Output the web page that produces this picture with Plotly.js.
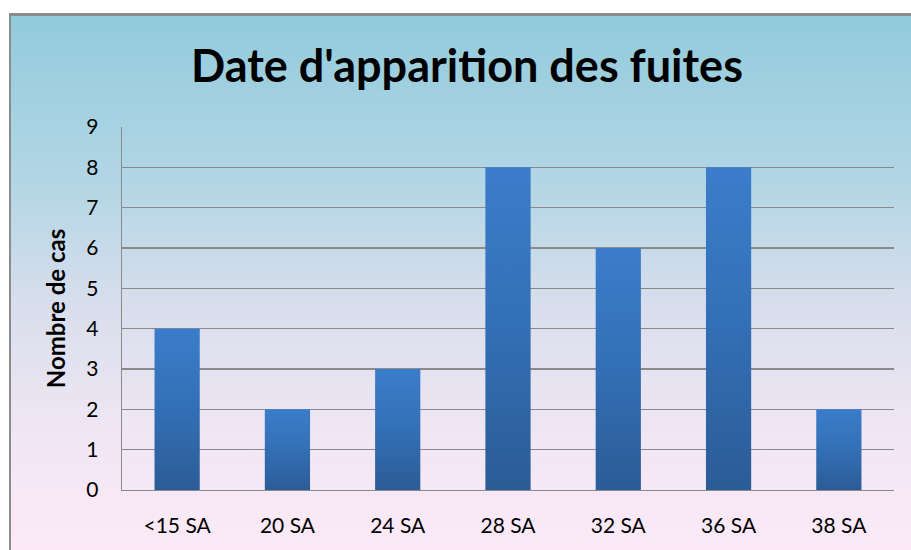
<!DOCTYPE html>
<html>
<head>
<meta charset="utf-8">
<script src="https://cdn.plot.ly/plotly-3.0.1.min.js"></script>
<style>
  html, body { margin: 0; padding: 0; background: #ffffff; }
  #wrap { position: relative; width: 911px; height: 550px; overflow: hidden; }
  #box {
    position: absolute; left: 9px; top: 13px; width: 940px; height: 560px;
    border-left: 2px solid #8c8c8c; border-top: 3px solid #8c8c8c;
    background: linear-gradient(to bottom, #92cbdc 0%, #b3d6e5 30%, #d9deec 52%, #ece5f3 70%, #f8e8f6 86%, #fce9f7 100%);
  }
  #chart { position: absolute; left: 0; top: 0; width: 911px; height: 550px; }
</style>
</head>
<body>
<div id="wrap">
  <div id="box"></div>
  <div id="chart"></div>
</div>
<script>
const categories = ["<15 SA", "20 SA", "24 SA", "28 SA", "32 SA", "36 SA", "38 SA"];
const cases = [4, 2, 3, 8, 6, 8, 2];
const yTicks = [0, 1, 2, 3, 4, 5, 6, 7, 8, 9];

const trace = {
  type: "bar",
  x: categories,
  y: cases,
  marker: { color: "#3470b5", line: { width: 0 } },
  hoverinfo: "x+y"
};

const layout = {
  width: 911, height: 550,
  paper_bgcolor: "rgba(0,0,0,0)",
  plot_bgcolor: "rgba(0,0,0,0)",
  margin: { l: 122, r: 17, t: 127, b: 60 },
  bargap: 0.59,
  showlegend: false,
  title: {
    text: "<b>Date d'apparition des fuites</b>",
    font: { family: "Lato, 'Open Sans', sans-serif", size: 45, color: "#000000" },
    x: 467 / 911, xref: "container", xanchor: "center",
    y: 1 - 66 / 550, yref: "container", yanchor: "middle"
  },
  xaxis: {
    type: "category",
    showline: true, linecolor: "#8a8a8a", linewidth: 1.3,
    showgrid: false, zeroline: false, ticks: "",
    tickfont: { family: "Lato, 'Open Sans', sans-serif", size: 21, color: "#000000" },
    ticklabelstandoff: 16
  },
  yaxis: {
    range: [0, 9],
    tickvals: yTicks,
    showline: true, linecolor: "#8a8a8a", linewidth: 1.3,
    showgrid: true, gridcolor: "#8a8a8a", gridwidth: 1.3,
    zeroline: false, ticks: "",
    tickfont: { family: "Lato, 'Open Sans', sans-serif", size: 21, color: "#000000" },
    ticklabelstandoff: 18,
    title: {
      text: "<b>Nombre de cas</b>",
      font: { family: "Lato, 'Open Sans', sans-serif", size: 24, color: "#000000" },
      standoff: 14
    }
  }
};

Plotly.newPlot("chart", [trace], layout, { displayModeBar: false, staticPlot: true }).then(function (gd) {
  const svg = gd.querySelector("svg.main-svg");
  const ns = "http://www.w3.org/2000/svg";
  let defs = svg.querySelector("defs");
  if (!defs) { defs = document.createElementNS(ns, "defs"); svg.insertBefore(defs, svg.firstChild); }
  const grad = document.createElementNS(ns, "linearGradient");
  grad.setAttribute("id", "barGrad");
  grad.setAttribute("x1", "0"); grad.setAttribute("y1", "0");
  grad.setAttribute("x2", "0"); grad.setAttribute("y2", "1");
  [["0%", "#3b7dcb"], ["50%", "#336fb5"], ["100%", "#2b5c96"]].forEach(function (s) {
    const st = document.createElementNS(ns, "stop");
    st.setAttribute("offset", s[0]); st.setAttribute("stop-color", s[1]);
    grad.appendChild(st);
  });
  defs.appendChild(grad);
  gd.querySelectorAll(".bars .point path").forEach(function (p) {
    p.style.fill = "url(#barGrad)";
  });
});
</script>
</body>
</html>
